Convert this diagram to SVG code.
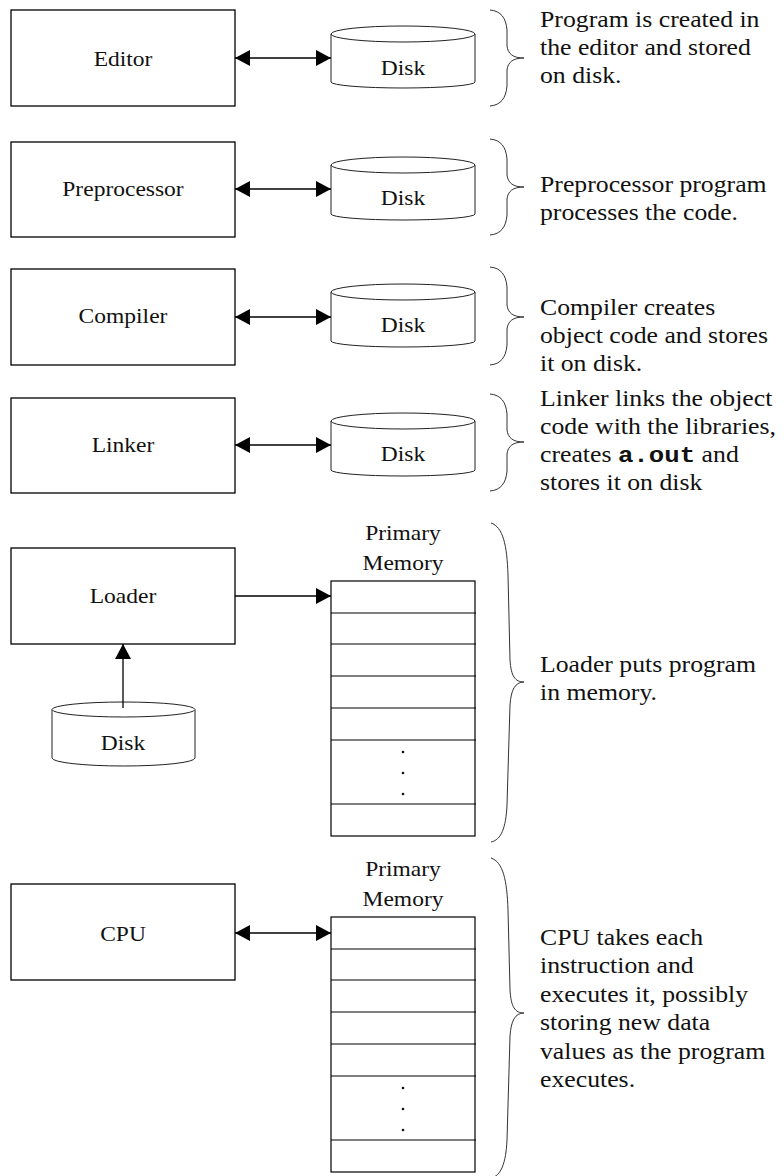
<svg xmlns="http://www.w3.org/2000/svg" width="784" height="1176" viewBox="0 0 784 1176">
  <style>
    .box { fill: #fff; stroke: #000; stroke-width: 1.3; }
    .cyl { fill: #fff; stroke: #222; stroke-width: 1; }
    .row { fill: none; stroke: #000; stroke-width: 1.2; }
    .conn { fill: none; stroke: #000; stroke-width: 1.3; }
    .brace { fill: none; stroke: #333; stroke-width: 1; }
    .label { font-family: "Liberation Serif", "Times New Roman", serif; font-size: 21px; text-anchor: middle; fill: #111; }
    .note { font-family: "Liberation Serif", "Times New Roman", serif; font-size: 23px; fill: #111; }
    .mono { font-family: "Liberation Mono", "Courier New", monospace; font-weight: bold; }
  </style>
  <defs>
    <marker id="head" viewBox="0 0 15 16" refX="15" refY="8" markerWidth="15" markerHeight="16" markerUnits="userSpaceOnUse" orient="auto-start-reverse">
      <path d="M0,0 L15,8 L0,16 Z" fill="#000"/>
    </marker>
  </defs>

  <!-- Stage 1: editor -->
  <g id="editor">
    <rect class="box" x="11" y="10" width="224" height="96"/>
    <text class="label" transform="translate(123 66) scale(1.12 1)">Editor</text>
  </g>
  <g id="disk-editor">
    <path class="cyl" d="M331,34 L331,82 A72,6 0 0 0 475,82 L475,34"/>
    <ellipse class="cyl" cx="403" cy="34" rx="72" ry="8"/>
    <text class="label" transform="translate(403 75) scale(1.12 1)">Disk</text>
  </g>

  <!-- Stage 2: preprocessor -->
  <g id="preprocessor">
    <rect class="box" x="11" y="142" width="224" height="95"/>
    <text class="label" transform="translate(123 196) scale(1.12 1)">Preprocessor</text>
  </g>
  <g id="disk-preprocessor">
    <path class="cyl" d="M331,165 L331,214 A72,6 0 0 0 475,214 L475,165"/>
    <ellipse class="cyl" cx="403" cy="165" rx="72" ry="8"/>
    <text class="label" transform="translate(403 205) scale(1.12 1)">Disk</text>
  </g>

  <!-- Stage 3: compiler -->
  <g id="compiler">
    <rect class="box" x="11" y="269" width="224" height="96"/>
    <text class="label" transform="translate(123 323) scale(1.12 1)">Compiler</text>
  </g>
  <g id="disk-compiler">
    <path class="cyl" d="M331,292 L331,341 A72,6 0 0 0 475,341 L475,292"/>
    <ellipse class="cyl" cx="403" cy="292" rx="72" ry="8"/>
    <text class="label" transform="translate(403 332) scale(1.12 1)">Disk</text>
  </g>

  <!-- Stage 4: linker -->
  <g id="linker">
    <rect class="box" x="11" y="398" width="224" height="95"/>
    <text class="label" transform="translate(123 452) scale(1.12 1)">Linker</text>
  </g>
  <g id="disk-linker">
    <path class="cyl" d="M331,421 L331,470 A72,6 0 0 0 475,470 L475,421"/>
    <ellipse class="cyl" cx="403" cy="421" rx="72" ry="8"/>
    <text class="label" transform="translate(403 461) scale(1.12 1)">Disk</text>
  </g>

  <!-- Stage 5: loader -->
  <g id="loader">
    <rect class="box" x="11" y="548" width="224" height="96"/>
    <text class="label" transform="translate(123 603) scale(1.12 1)">Loader</text>
  </g>
  <g id="disk-loader">
    <path class="cyl" d="M52,709.5 L52,758 A71.5,8 0 0 0 195,758 L195,709.5"/>
    <ellipse class="cyl" cx="123.5" cy="709.5" rx="71.5" ry="7.5"/>
    <text class="label" transform="translate(123 750) scale(1.12 1)">Disk</text>
  </g>
  <g id="memory-loader">
    <text class="label" transform="translate(403 540) scale(1.12 1)">Primary</text>
    <text class="label" transform="translate(403 570) scale(1.12 1)">Memory</text>
    <rect class="row" x="331" y="581" width="144" height="255"/>
    <path class="row" d="M331,613 H476 M331,644 H476 M331,676 H476 M331,708 H476 M331,740 H476 M331,804 H476"/>
    <circle cx="403" cy="752" r="1.3" fill="#111"/>
    <circle cx="403" cy="773" r="1.3" fill="#111"/>
    <circle cx="403" cy="794" r="1.3" fill="#111"/>
  </g>

  <!-- Stage 6: execution -->
  <g id="cpu">
    <rect class="box" x="11" y="884" width="224" height="96"/>
    <text class="label" transform="translate(123 941) scale(1.12 1)">CPU</text>
  </g>
  <g id="memory-cpu">
    <text class="label" transform="translate(403 876) scale(1.12 1)">Primary</text>
    <text class="label" transform="translate(403 906) scale(1.12 1)">Memory</text>
    <rect class="row" x="331" y="917" width="144" height="255"/>
    <path class="row" d="M331,949 H476 M331,980 H476 M331,1012 H476 M331,1044 H476 M331,1076 H476 M331,1140 H476"/>
    <circle cx="403" cy="1088" r="1.3" fill="#111"/>
    <circle cx="403" cy="1109" r="1.3" fill="#111"/>
    <circle cx="403" cy="1130" r="1.3" fill="#111"/>
  </g>

  <!-- Connectors -->
  <g id="connectors">
    <line class="conn" x1="235" y1="58" x2="331" y2="58" marker-start="url(#head)" marker-end="url(#head)"/>
    <line class="conn" x1="235" y1="189" x2="331" y2="189" marker-start="url(#head)" marker-end="url(#head)"/>
    <line class="conn" x1="235" y1="317" x2="331" y2="317" marker-start="url(#head)" marker-end="url(#head)"/>
    <line class="conn" x1="235" y1="445" x2="331" y2="445" marker-start="url(#head)" marker-end="url(#head)"/>
    <line class="conn" x1="235" y1="596" x2="331" y2="596" marker-end="url(#head)"/>
    <line class="conn" x1="123" y1="708" x2="123" y2="644" marker-end="url(#head)"/>
    <line class="conn" x1="235" y1="933" x2="331" y2="933" marker-start="url(#head)" marker-end="url(#head)"/>
  </g>

  <!-- Annotations: braces with descriptions -->
  <g id="note-editor">
    <path class="brace" d="M490,10 C501,11 506,18 507,30 L507,46 C508,54 513,58 524,58 C513,58 508,62 507,70 L507,86 C506,98 501,105 490,106"/>
    <text class="note" transform="translate(540 27) scale(1.12 1)">
      <tspan x="0" y="0">Program is created in</tspan>
      <tspan x="0" y="28">the editor and stored</tspan>
      <tspan x="0" y="56">on disk.</tspan>
    </text>
  </g>
  <g id="note-preprocessor">
    <path class="brace" d="M490,139 C501,140 506,147 507,159 L507,175 C508,183 513,187 524,187 C513,187 508,191 507,199 L507,215 C506,227 501,234 490,235"/>
    <text class="note" transform="translate(540 192) scale(1.12 1)">
      <tspan x="0" y="0">Preprocessor program</tspan>
      <tspan x="0" y="28">processes the code.</tspan>
    </text>
  </g>
  <g id="note-compiler">
    <path class="brace" d="M490,267 C501,268 506,275 507,287 L507,305 C508,313 513,317 524,317 C513,317 508,321 507,329 L507,345 C506,357 501,364 490,365"/>
    <text class="note" transform="translate(540 315) scale(1.12 1)">
      <tspan x="0" y="0">Compiler creates</tspan>
      <tspan x="0" y="28">object code and stores</tspan>
      <tspan x="0" y="56">it on disk.</tspan>
    </text>
  </g>
  <g id="note-linker">
    <path class="brace" d="M490,394 C501,395 506,402 507,414 L507,430 C508,438 513,442 524,442 C513,442 508,446 507,454 L507,471 C506,483 501,490 490,491"/>
    <text class="note" transform="translate(540 406) scale(1.12 1)">
      <tspan x="0" y="0">Linker links the object</tspan>
      <tspan x="0" y="28">code with the libraries,</tspan>
      <tspan x="0" y="56">creates <tspan class="mono">a.out</tspan> and</tspan>
      <tspan x="0" y="84">stores it on disk</tspan>
    </text>
  </g>
  <g id="note-loader">
    <path class="brace" d="M491,523 C503,527 507,545 508,575 L510,660 C511,676 515,682 524,682 C515,682 511,690 510,705 L507,805 C506,828 501,840 491,842"/>
    <text class="note" transform="translate(540 672) scale(1.12 1)">
      <tspan x="0" y="0">Loader puts program</tspan>
      <tspan x="0" y="28">in memory.</tspan>
    </text>
  </g>
  <g id="note-cpu">
    <path class="brace" d="M491,858 C503,862 507,880 508,910 L510,990 C511,1007 515,1013 524,1013 C515,1013 511,1021 510,1036 L507,1140 C506,1163 501,1176 491,1178"/>
    <text class="note" transform="translate(540 945) scale(1.12 1)">
      <tspan x="0" y="0">CPU takes each</tspan>
      <tspan x="0" y="28.4">instruction and</tspan>
      <tspan x="0" y="56.8">executes it, possibly</tspan>
      <tspan x="0" y="85.2">storing new data</tspan>
      <tspan x="0" y="113.6">values as the program</tspan>
      <tspan x="0" y="142">executes.</tspan>
    </text>
  </g>
</svg>
